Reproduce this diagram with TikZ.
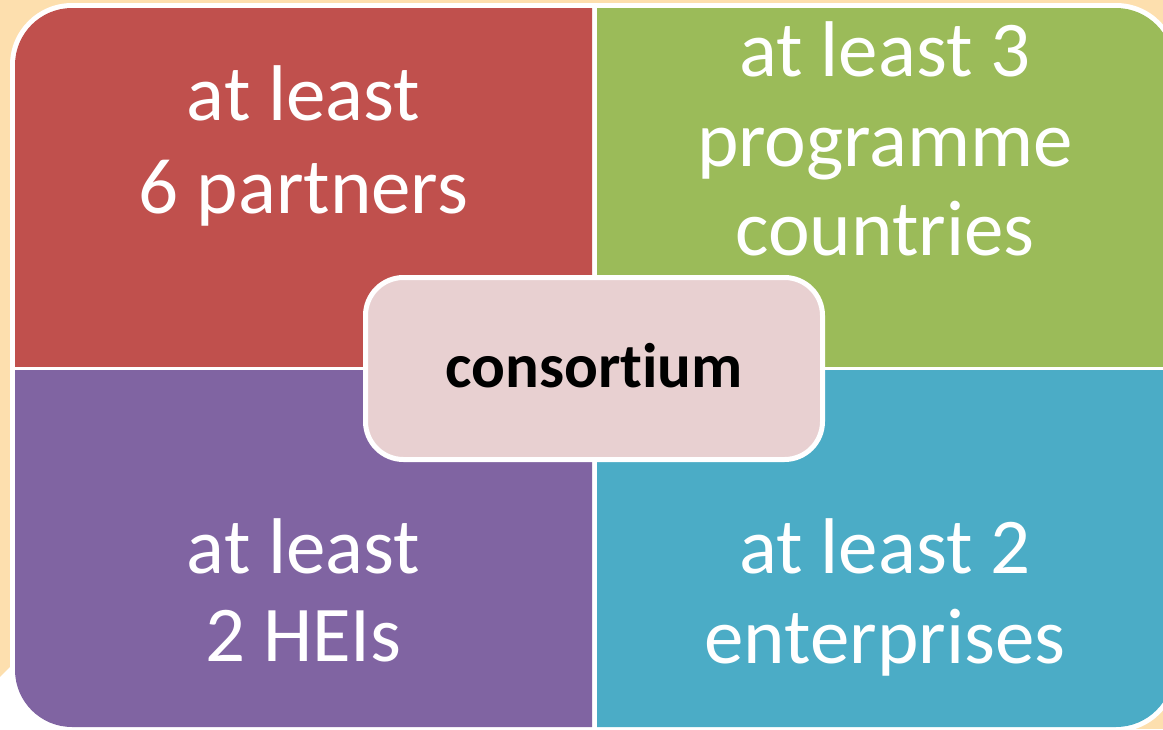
\documentclass[tikz,border=0pt]{standalone}
\usepackage{fontspec}
\setmainfont{Carlito}[Ligatures=NoCommon]
\definecolor{bgbeige}{HTML}{FDDFAE}
\definecolor{qred}{HTML}{C0504D}
\definecolor{qgreen}{HTML}{9BBB59}
\definecolor{qpurple}{HTML}{8064A2}
\definecolor{qblue}{HTML}{4BACC6}
\definecolor{cpink}{HTML}{E8D0D1}
\tikzset{
  qtext/.style={anchor=base, text=white, inner sep=0pt, font=\fontsize{79}{92}\selectfont},
  centerbox/.style={draw=white, line width=5pt, fill=cpink, rounded corners=38pt,
    minimum width=457pt, minimum height=182pt, inner sep=0pt}
}
\begin{document}
\begin{tikzpicture}[x=1pt,y=-1pt]
\useasboundingbox (0,0) rectangle (1163,729);
\fill[bgbeige] (0,0) rectangle (1163,729);
\fill[white] (0,677) -- (70,607) -- (70,729) -- (0,729) -- cycle;
\fill[white, rounded corners=62pt] (10,3) rectangle (1178,732);
% quadrants
\begin{scope}
  \clip (15,8) rectangle (592,366);
  \fill[qred, rounded corners=57pt] (15,8) rectangle (1173,727);
\end{scope}
\begin{scope}
  \clip (597,8) rectangle (1173,366);
  \fill[qgreen, rounded corners=57pt] (15,8) rectangle (1173,727);
\end{scope}
\begin{scope}
  \clip (15,370) rectangle (592,727);
  \fill[qpurple, rounded corners=57pt] (15,8) rectangle (1173,727);
\end{scope}
\begin{scope}
  \clip (597,370) rectangle (1173,727);
  \fill[qblue, rounded corners=57pt] (15,8) rectangle (1173,727);
\end{scope}
% texts
\node[qtext] (r1) at (303.5,120) {at least};
\node[qtext] (r2) at (303.5,213) {6 partners};
\node[qtext] (g1) at (885,76) {at least 3};
\node[qtext] (g2) at (885,166) {programme};
\node[qtext] (g3) at (885,255) {countries};
\node[qtext] (p1) at (303.5,573) {at least};
\node[qtext] (p2) at (303.5,661) {2 HEIs};
\node[qtext] (b1) at (885,573) {at least 2};
\node[qtext] (b2) at (885,663) {enterprises};
% centre
\node[centerbox] (c) at (594,368.5) {};
\node[anchor=base, inner sep=0pt, font=\fontsize{63}{76}\selectfont\bfseries] (ct) at (594,387) {consortium};
\end{tikzpicture}
\end{document}
